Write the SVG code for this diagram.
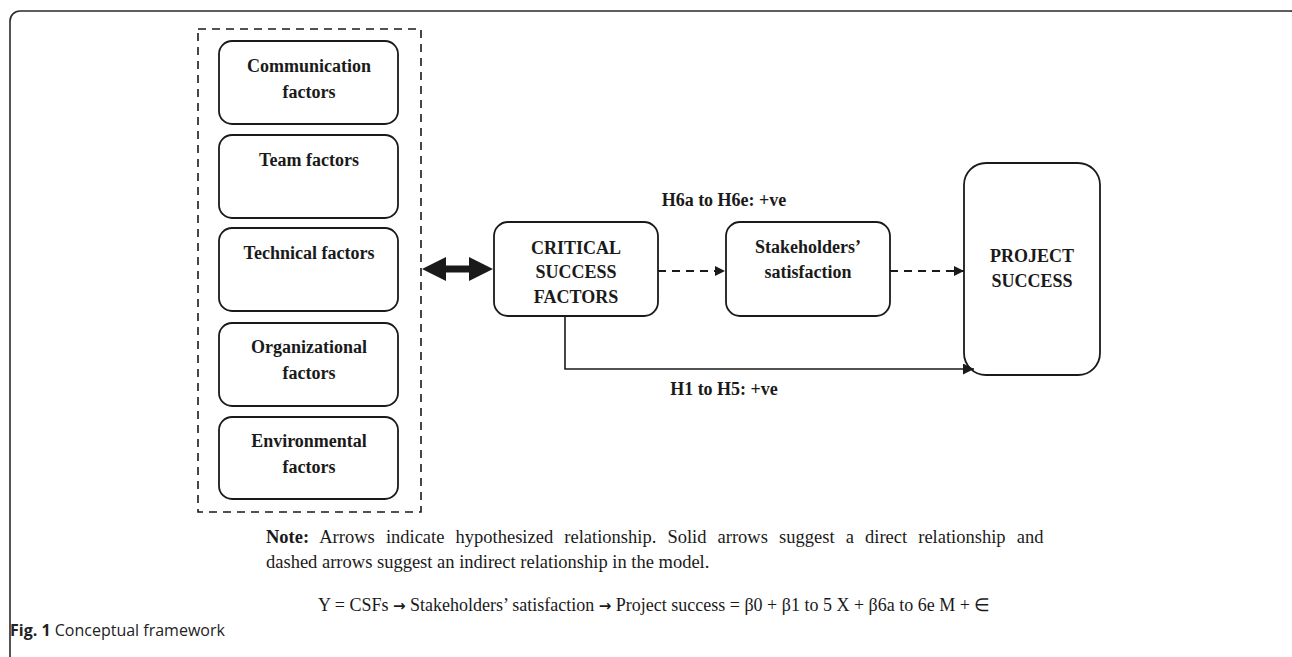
<svg xmlns="http://www.w3.org/2000/svg" width="1292" height="657" viewBox="0 0 1292 657">
<defs>
<style>
.frame{fill:none;stroke:#2a2a2a;stroke-width:1.6}
.box{fill:#fff;stroke:#1a1a1a;stroke-width:1.8}
.grp{fill:none;stroke:#1a1a1a;stroke-width:1.6;stroke-dasharray:8 6}
.lbl{font-family:"Liberation Serif","Times New Roman",serif;font-weight:bold;font-size:18px;fill:#1a1a1a;text-anchor:middle}
.note{font-family:"Liberation Serif","Times New Roman",serif;font-size:18.5px;fill:#1a1a1a}
.eq{font-family:"Liberation Serif","Times New Roman",serif;font-size:18px;fill:#1a1a1a}
.cap{font-family:"Open Sans","Noto Sans",sans-serif;font-size:16px;fill:#222}
.arr{font-family:"DejaVu Sans",sans-serif;font-weight:bold;font-size:15px}
.dash{fill:none;stroke:#1a1a1a;stroke-width:1.8;stroke-dasharray:8 6}
.solid{fill:none;stroke:#1a1a1a;stroke-width:1.6}
</style>
<marker id="ah" viewBox="0 0 10 10" refX="10" refY="5" markerWidth="10" markerHeight="10" markerUnits="userSpaceOnUse" orient="auto">
<path d="M0,0 L10,5 L0,10 Z" fill="#1a1a1a"/>
</marker>
<marker id="ah2" viewBox="0 0 10 10" refX="10" refY="5" markerWidth="11" markerHeight="11" markerUnits="userSpaceOnUse" orient="auto">
<path d="M0,0 L10,5 L0,10 Z" fill="#1a1a1a"/>
</marker>
</defs>
<rect width="1292" height="657" fill="#fff"/>
<rect class="frame" x="10" y="11" width="1290" height="700" rx="10"/>

<g id="factors-group">
<rect class="grp" x="198" y="29" width="223" height="483"/>
</g>
<g id="communication">
<rect class="box" x="219" y="41" width="179" height="83" rx="13"/>
<text class="lbl" x="309" y="72">Communication</text>
<text class="lbl" x="309" y="98">factors</text>
</g>
<g id="team">
<rect class="box" x="219" y="135" width="179" height="83" rx="13"/>
<text class="lbl" x="309" y="166">Team factors</text>
</g>
<g id="technical">
<rect class="box" x="219" y="228" width="179" height="83" rx="13"/>
<text class="lbl" x="309" y="259">Technical factors</text>
</g>
<g id="organizational">
<rect class="box" x="219" y="323" width="179" height="83" rx="13"/>
<text class="lbl" x="309" y="353">Organizational</text>
<text class="lbl" x="309" y="379">factors</text>
</g>
<g id="environmental">
<rect class="box" x="219" y="417" width="179" height="82" rx="13"/>
<text class="lbl" x="309" y="447">Environmental</text>
<text class="lbl" x="309" y="473">factors</text>
</g>

<g id="csf">
<rect class="box" x="494" y="222" width="164" height="94" rx="14"/>
<text class="lbl" x="576" y="254">CRITICAL</text>
<text class="lbl" x="576" y="278">SUCCESS</text>
<text class="lbl" x="576" y="303">FACTORS</text>
</g>
<g id="stakeholders">
<rect class="box" x="726" y="222" width="164" height="94" rx="14"/>
<text class="lbl" x="808" y="253">Stakeholders’</text>
<text class="lbl" x="808" y="278">satisfaction</text>
</g>
<g id="project-success">
<rect class="box" x="964" y="163" width="136" height="212" rx="22"/>
<text class="lbl" x="1032" y="262">PROJECT</text>
<text class="lbl" x="1032" y="287">SUCCESS</text>
</g>

<g id="connectors">
<polygon points="422,269 446,257 446,265.5 469,265.5 469,257 493,269 469,281 469,272.5 446,272.5 446,281" fill="#1a1a1a"/>
<line class="dash" x1="658" y1="271" x2="725" y2="271" marker-end="url(#ah)"/>
<line class="dash" x1="890" y1="271" x2="964" y2="271" marker-end="url(#ah)"/>
<polyline class="solid" points="565,316 565,369 974,369" marker-end="url(#ah2)"/>
<text class="lbl" x="724" y="206">H6a to H6e: +ve</text>
<text class="lbl" x="724" y="395">H1 to H5: +ve</text>
</g>

<g id="notes">
<text class="note" x="266" y="543" word-spacing="6.5"><tspan font-weight="bold">Note:</tspan> Arrows indicate hypothesized relationship. Solid arrows suggest a direct relationship and</text>
<text class="note" x="266" y="568">dashed arrows suggest an indirect relationship in the model.</text>
<text class="eq" x="318" y="611">Y = CSFs <tspan class="arr">→</tspan> Stakeholders’ satisfaction <tspan class="arr">→</tspan> Project success = β0 + β1 to 5 X + β6a to 6e M + ∈</text>
</g>
<text class="cap" x="10" y="636"><tspan font-weight="bold">Fig. 1</tspan> Conceptual framework</text>
</svg>
